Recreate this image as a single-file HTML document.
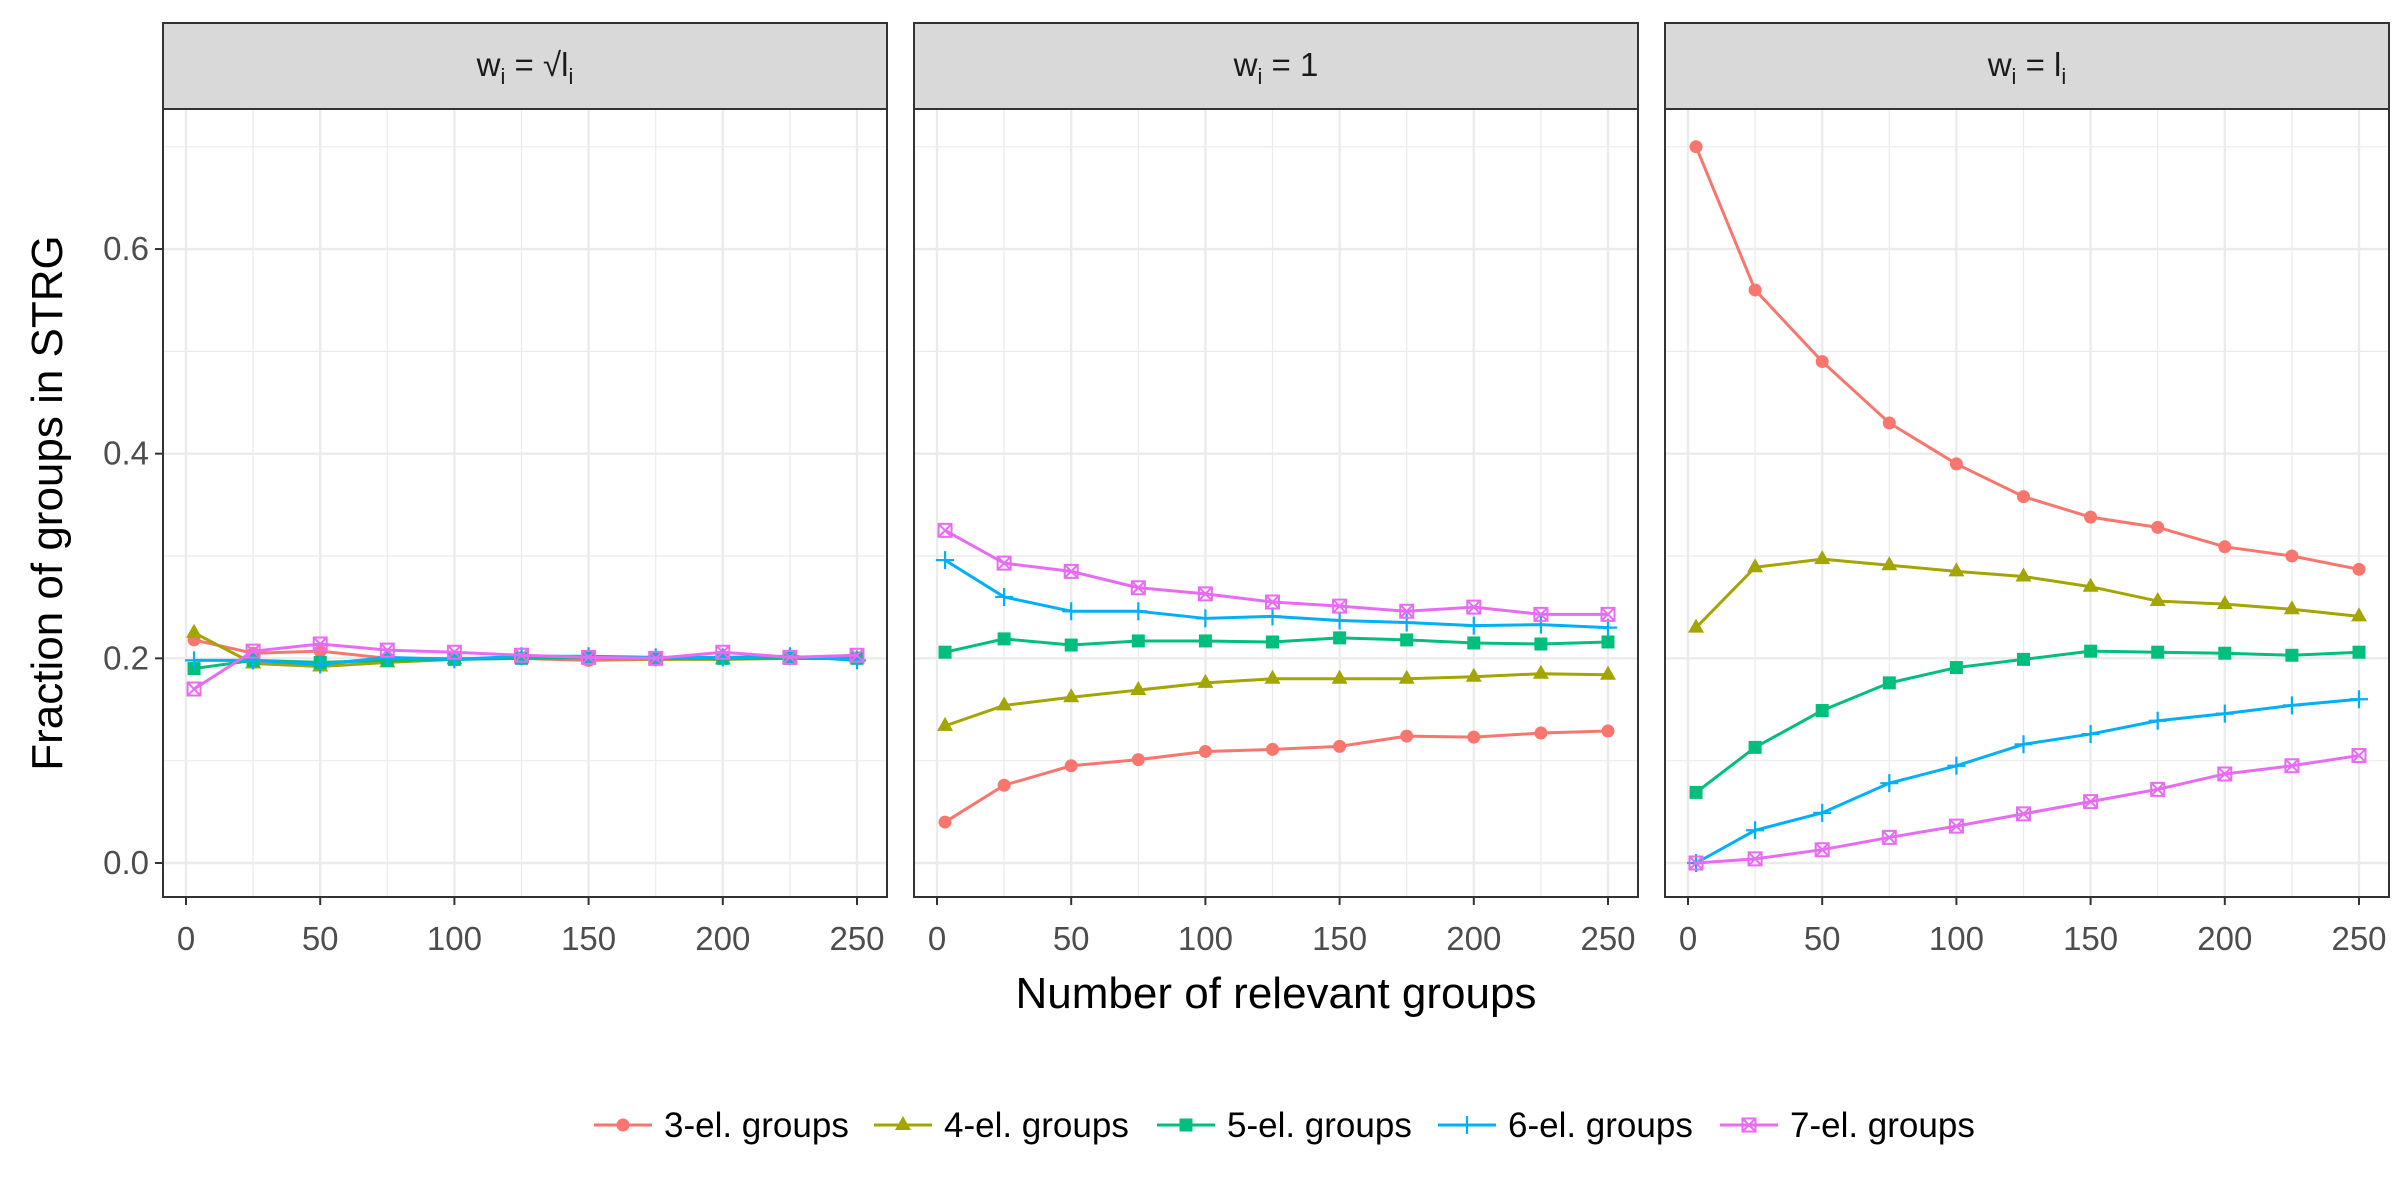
<!DOCTYPE html>
<html><head><meta charset="utf-8">
<style>
html,body{margin:0;padding:0;background:#fff;}
svg{display:block;font-family:"Liberation Sans",sans-serif;}
</style></head>
<body>
<svg id="chart" width="2400" height="1200" viewBox="0 0 2400 1200" xmlns="http://www.w3.org/2000/svg"></svg>
<script>
const xValues = [3,25,50,75,100,125,150,175,200,225,250];
const seriesNames = ["3-el. groups","4-el. groups","5-el. groups","6-el. groups","7-el. groups"];
const colors = ["#F8766D","#A3A500","#00BF7D","#00B0F6","#E76BF3"];
const shapes = ["circle","triangle","square","plus","boxx"];
const xTicks = [0,50,100,150,200,250];
const xTickLabels = ["0","50","100","150","200","250"];
const yTicks = [0,0.2,0.4,0.6];
const yTickLabels = ["0.0","0.2","0.4","0.6"];
const xMinor = [25,75,125,175,225];
const yMinor = [0.1,0.3,0.5,0.7];
// panel 1: w = sqrt(l)
const p1s3 = [0.218,0.205,0.207,0.200,0.200,0.200,0.198,0.199,0.200,0.200,0.200];
const p1s4 = [0.225,0.195,0.192,0.196,0.199,0.200,0.200,0.199,0.199,0.200,0.200];
const p1s5 = [0.190,0.198,0.196,0.198,0.199,0.200,0.201,0.200,0.200,0.200,0.200];
const p1s6 = [0.198,0.198,0.194,0.201,0.199,0.202,0.202,0.201,0.201,0.202,0.198];
const p1s7 = [0.170,0.207,0.214,0.208,0.206,0.203,0.201,0.200,0.206,0.201,0.203];
// panel 2: w = 1
const p2s3 = [0.040,0.076,0.095,0.101,0.109,0.111,0.114,0.124,0.123,0.127,0.129];
const p2s4 = [0.134,0.154,0.162,0.169,0.176,0.180,0.180,0.180,0.182,0.185,0.184];
const p2s5 = [0.206,0.219,0.213,0.217,0.217,0.216,0.220,0.218,0.215,0.214,0.216];
const p2s6 = [0.296,0.260,0.246,0.246,0.239,0.241,0.237,0.235,0.232,0.233,0.230];
const p2s7 = [0.325,0.293,0.285,0.269,0.263,0.255,0.251,0.246,0.250,0.243,0.243];
// panel 3: w = l
const p3s3 = [0.700,0.560,0.490,0.430,0.390,0.358,0.338,0.328,0.309,0.300,0.287];
const p3s4 = [0.230,0.289,0.297,0.291,0.285,0.280,0.270,0.256,0.253,0.248,0.241];
const p3s5 = [0.069,0.113,0.149,0.176,0.191,0.199,0.207,0.206,0.205,0.203,0.206];
const p3s6 = [0.000,0.032,0.049,0.078,0.095,0.116,0.126,0.139,0.146,0.154,0.160];
const p3s7 = [0.000,0.004,0.013,0.025,0.036,0.048,0.060,0.072,0.087,0.095,0.105];

const panelData = [[p1s3,p1s4,p1s5,p1s6,p1s7],[p2s3,p2s4,p2s5,p2s6,p2s7],[p3s3,p3s4,p3s5,p3s6,p3s7]];
const panelLefts = [163,914,1665];
const panelW = 724, plotTop = 109, plotBot = 897, stripTop = 23;
const NS = "http://www.w3.org/2000/svg";
const svg = document.getElementById("chart");
function mk(tag, attrs, parent){const e=document.createElementNS(NS,tag);for(const k in attrs)e.setAttribute(k,attrs[k]);(parent||svg).appendChild(e);return e;}
function yScale(v){return 863 - v*1023.3;}
function xScaleFor(left){return v => left + 23 + v*2.684;}

function marker(g, shape, x, y, c){
  let m;
  if(shape==="circle") m=mk("circle",{cx:x,cy:y,r:6.5,fill:c},g);
  else if(shape==="triangle") m=mk("polygon",{points:`${x},${y-9} ${x-8},${y+5} ${x+8},${y+5}`,fill:c},g);
  else if(shape==="square") m=mk("rect",{x:x-6.5,y:y-6.5,width:13,height:13,fill:c},g);
  else if(shape==="plus") m=mk("path",{d:`M${x-9},${y}H${x+9}M${x},${y-9}V${y+9}`,stroke:c,"stroke-width":2.2,fill:"none"},g);
  else m=mk("path",{d:`M${x-6.5},${y-6.5}h13v13h-13zM${x-6.5},${y-6.5}L${x+6.5},${y+6.5}M${x+6.5},${y-6.5}L${x-6.5},${y+6.5}`,stroke:c,"stroke-width":2,fill:"none"},g);
  return m;
}

const stripLabels = [
  [["w",0],["i",1],[" = √",0],["l",0],["i",1]],
  [["w",0],["i",1],[" = 1",0]],
  [["w",0],["i",1],[" = ",0],["l",0],["i",1]]
];

panelData.forEach((series, pi)=>{
  const L = panelLefts[pi], xs = xScaleFor(L);
  const g = mk("g",{});
  
  
  mk("rect",{x:L,y:plotTop,width:panelW,height:plotBot-plotTop,fill:"#fff"},g);
  yMinor.forEach(v=>mk("line",{x1:L,x2:L+panelW,y1:yScale(v),y2:yScale(v),stroke:"#ebebeb","stroke-width":1.2},g));
  xMinor.forEach(v=>mk("line",{x1:xs(v),x2:xs(v),y1:plotTop,y2:plotBot,stroke:"#ebebeb","stroke-width":1.2},g));
  yTicks.forEach(v=>mk("line",{x1:L,x2:L+panelW,y1:yScale(v),y2:yScale(v),stroke:"#ebebeb","stroke-width":2.4},g));
  xTicks.forEach(v=>mk("line",{x1:xs(v),x2:xs(v),y1:plotTop,y2:plotBot,stroke:"#ebebeb","stroke-width":2.4},g));
  series.forEach((vals, si)=>{
    const sg = mk("g",{},g);
    
    
    const pts = vals.map((v,i)=>xs(xValues[i])+","+yScale(v)).join(" ");
    mk("polyline",{points:pts,fill:"none",stroke:colors[si],"stroke-width":3},sg);
    vals.forEach((v,i)=>{
      const m = marker(sg, shapes[si], xs(xValues[i]), yScale(v), colors[si]);
      
      
    });
  });
  const border = mk("rect",{x:L,y:plotTop,width:panelW,height:plotBot-plotTop,fill:"none",stroke:"#333","stroke-width":2},g);
  
  
  const strip = mk("rect",{x:L,y:stripTop,width:panelW,height:plotTop-stripTop,fill:"#d9d9d9",stroke:"#333","stroke-width":2},g);
  
  
  const st = mk("text",{x:L+panelW/2,y:76,"text-anchor":"middle","font-size":33,fill:"#1a1a1a"},g);
  
  
  let low = false;
  stripLabels[pi].forEach(([t,sub])=>{
    const ts = mk("tspan",{},st); ts.textContent=t;
    if(sub){ts.setAttribute("font-size","22"); if(!low){ts.setAttribute("dy","8");} low=true;}
    else { if(low){ts.setAttribute("dy","-8");} low=false; }
  });
  // x ticks
  xTicks.forEach((v,i)=>{
    mk("line",{x1:xs(v),x2:xs(v),y1:plotBot,y2:plotBot+8,stroke:"#333","stroke-width":2},g);
    const t = mk("text",{x:xs(v),y:950,"text-anchor":"middle","font-size":33,fill:"#4d4d4d"},g);
    
    
    t.textContent = xTickLabels[i];
  });
  if(pi===0){
    yTicks.forEach((v,i)=>{
      mk("line",{x1:L-8,x2:L,y1:yScale(v),y2:yScale(v),stroke:"#333","stroke-width":2},g);
      const t = mk("text",{x:L-14,y:yScale(v)+11,"text-anchor":"end","font-size":33,fill:"#4d4d4d"},g);
      
      
      t.textContent = yTickLabels[i];
    });
  }
});

const xt = mk("text",{x:1276,y:1008,"text-anchor":"middle","font-size":44,fill:"#000"});


xt.textContent = "Number of relevant groups";
const yt = mk("text",{x:0,y:0,"text-anchor":"middle","font-size":44,fill:"#000",transform:"translate(62,503) rotate(-90)"});


yt.textContent = "Fraction of groups in STRG";

const legendX = [594,874,1157,1438,1720];
const lg = mk("g",{});


seriesNames.forEach((n,i)=>{
  const eg = mk("g",{},lg);
  
  
  const x0 = legendX[i], y0 = 1125;
  mk("line",{x1:x0,x2:x0+58,y1:y0,y2:y0,stroke:colors[i],"stroke-width":3},eg);
  marker(eg, shapes[i], x0+29, y0, colors[i]);
  const t = mk("text",{x:x0+70,y:y0+12,"font-size":35,fill:"#000"},eg);
  t.textContent = n;
});
</script>
</body></html>
